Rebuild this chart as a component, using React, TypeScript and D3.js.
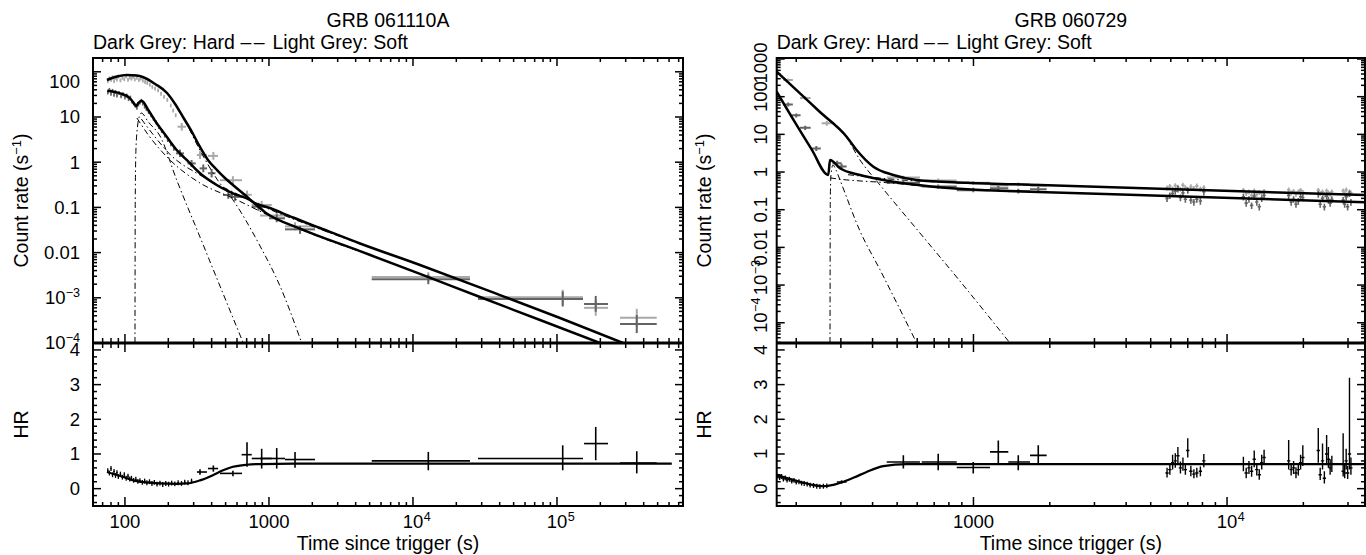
import React from "react";
import * as d3 from "d3";

const FONT = "'Liberation Sans', Arial, Helvetica, sans-serif";
const LIGHT = "#a9a9a9";
const DARK = "#646464";

// ---------- GRB 061110A (left) ----------
// [t, tLo, tHi, rate, rateLo, rateHi]
const leftSoftPC: number[][] = [
  [248, 232, 265, 6.1, 5.0, 7.4],
  [332, 316, 371, 1.44, 1.18, 1.76],
  [411, 377, 443, 1.38, 1.13, 1.69],
  [562, 457, 650, 0.4, 0.33, 0.49],
  [704, 646, 759, 0.19, 0.155, 0.235],
  [890, 759, 1045, 0.113, 0.092, 0.139],
  [1132, 866, 1292, 0.066, 0.054, 0.081],
  [1517, 1292, 2088, 0.038, 0.031, 0.047],
  [12780, 5170, 24890, 0.0029, 0.00225, 0.0037],
  [109600, 28290, 151600, 0.00103, 0.0007, 0.0015],
  [185800, 154200, 226200, 0.0006, 0.0004, 0.0009],
  [358100, 274100, 492700, 0.000363, 0.00023, 0.00057],
];
const leftHardPC: number[][] = [
  [241, 226, 257, 1.57, 1.3, 1.9],
  [290, 272, 310, 0.94, 0.78, 1.12],
  [350, 330, 372, 0.73, 0.6, 0.89],
  [400, 377, 425, 0.57, 0.46, 0.7],
  [522, 480, 562, 0.188, 0.155, 0.23],
  [581, 540, 650, 0.171, 0.14, 0.21],
  [844, 759, 960, 0.1035, 0.084, 0.127],
  [1132, 1000, 1292, 0.0574, 0.047, 0.07],
  [1644, 1292, 2088, 0.0327, 0.026, 0.039],
  [12780, 5170, 24890, 0.00256, 0.002, 0.0033],
  [109600, 28290, 151600, 0.00094, 0.00064, 0.00138],
  [185800, 154200, 226200, 0.00073, 0.00049, 0.0011],
  [358100, 274100, 492700, 0.000263, 0.000166, 0.000416],
];
// [t, rate] dense early (WT) data
const leftSoftWT: number[][] = [
  [76, 62], [78, 72], [80, 66], [82, 76], [84, 63], [86, 74], [88, 68], [90, 79], [93, 65],
  [96, 74], [99, 69], [102, 80], [105, 67], [108, 75], [111, 71], [114, 78], [117, 68],
  [121, 74], [125, 66], [129, 71], [133, 64], [138, 60], [143, 57], [149, 52], [155, 46],
  [162, 43], [170, 39], [178, 33], [187, 28], [197, 24], [208, 18], [216, 14], [225, 11],
];
const leftHardWT: number[][] = [
  [76, 35], [78, 40], [80, 33], [82, 38], [84, 31], [86, 36], [88, 30], [91, 34], [94, 29],
  [97, 32], [100, 27], [103, 30], [106, 25], [109, 27], [112, 22], [115, 20], [118, 18],
  [121, 16], [124, 19], [127, 21], [130, 23], [133, 20], [137, 17], [141, 15], [146, 13],
  [152, 11], [158, 9.2], [165, 7.6], [172, 6.0], [180, 4.9], [189, 3.9], [198, 3.1],
  [208, 2.5], [219, 2.0],
];
const leftSoftModel: number[][] = [
  [75, 65.8], [88, 78.7], [103, 85], [121, 82.8], [133, 76.7], [162, 53.7], [196, 34],
  [223, 19.4], [253, 10], [292, 4.66], [332, 2.17], [377, 1.12], [436, 0.671], [495, 0.447],
  [562, 0.313], [682, 0.188], [774, 0.1315], [1016, 0.097], [1469, 0.0597], [2262, 0.035],
  [4287, 0.0159], [11190, 0.00531], [40220, 0.00115], [105000, 0.000357], [287500, 0.0001],
];
const leftHardModel: number[][] = [
  [75.4, 38.1], [92.4, 33.4], [108.4, 25.9], [117.4, 18.6], [119.5, 17.4], [124, 20.5],
  [130.6, 22.9], [145.2, 14.3], [166.2, 7.25], [195, 3.66], [228.7, 1.86], [268.4, 1.12],
  [332, 0.568], [433.5, 0.313], [562, 0.205], [738, 0.146], [964.5, 0.0735], [1643, 0.034],
  [4287, 0.01076], [11190, 0.00338], [29220, 0.00104], [76250, 0.000323], [199000, 0.0001],
];
const leftComponents: number[][][] = [
  [[117.4, 1e-4], [117.9, 0.146], [119.2, 1.86], [122.6, 6.65], [126.2, 10.5], [129.9, 12.25],
   [145.3, 7.74], [175.1, 3.8], [228.7, 0.404], [332, 0.0221], [457, 0.00182], [663, 0.0001]],
  [[75, 65.8], [88, 78.7], [103, 85], [121, 82.8], [133, 76.7], [162, 53.6], [196, 33.8],
   [253, 9.9], [332, 1.83], [436, 0.42], [562, 0.147], [867, 0.014], [1193, 0.00182], [1688, 0.0001]],
  [[121, 9.5], [145.3, 4.0], [205.5, 1.12], [332, 0.346], [562, 0.161], [964.5, 0.07],
   [1643, 0.033], [4287, 0.0105]],
  [[130, 9.0], [162, 3.6], [205, 1.5], [332, 0.52], [562, 0.22], [1016, 0.09], [2262, 0.033],
   [4287, 0.0157]],
];
// hardness ratio
const leftHRWT: number[][] = [
  [76, 0.52], [78, 0.45], [80, 0.58], [82, 0.4], [84, 0.5], [86, 0.38], [88, 0.46], [90, 0.35],
  [93, 0.42], [96, 0.33], [99, 0.4], [102, 0.3], [105, 0.36], [108, 0.28], [111, 0.3],
  [115, 0.24], [119, 0.27], [123, 0.21], [127, 0.23], [132, 0.18], [137, 0.22], [142, 0.17],
  [148, 0.2], [154, 0.15], [160, 0.18], [167, 0.13], [175, 0.16], [183, 0.12], [192, 0.15],
  [201, 0.13], [211, 0.16], [222, 0.14], [234, 0.17], [247, 0.15], [260, 0.19], [274, 0.17],
  [290, 0.22],
];
const leftHRPC: number[][] = [
  [332, 316, 371, 0.48, 0.4, 0.56],
  [411, 377, 443, 0.58, 0.49, 0.67],
  [562, 457, 650, 0.44, 0.36, 0.52],
  [704, 646, 759, 0.98, 0.63, 1.34],
  [890, 759, 1045, 0.87, 0.58, 1.15],
  [1132, 866, 1292, 0.87, 0.58, 1.17],
  [1517, 1292, 2088, 0.84, 0.6, 1.06],
  [12780, 5170, 24890, 0.8, 0.53, 1.06],
  [109600, 28290, 151600, 0.87, 0.53, 1.25],
  [185800, 154200, 226200, 1.3, 0.82, 1.78],
  [358100, 274100, 492700, 0.74, 0.44, 1.08],
];
const leftHRModel: number[][] = [
  [75, 0.48], [95, 0.35], [114, 0.24], [140, 0.18], [175, 0.15], [230, 0.14], [270, 0.15],
  [332, 0.24], [408, 0.39], [480, 0.53], [562, 0.63], [700, 0.69], [867, 0.71], [1500, 0.72],
  [627000, 0.72],
];

// ---------- GRB 060729 (right) ----------
const rightSoftPC: number[][] = [
  [186, 178, 194, 277, 250, 305],
  [217, 207, 228, 92, 82, 103],
  [264, 252, 276, 19.6, 17, 22.5],
  [529, 455, 615, 0.72, 0.65, 0.8],
  [726, 625, 859, 0.6, 0.54, 0.67],
  [998, 859, 1162, 0.52, 0.46, 0.58],
  [1253, 1162, 1372, 0.44, 0.39, 0.5],
  [1502, 1372, 1671, 0.47, 0.42, 0.53],
  [1801, 1671, 1944, 0.43, 0.38, 0.49],
];
const rightHardPC: number[][] = [
  [186, 178, 194, 62, 55, 70],
  [200, 192, 208, 32, 28, 36],
  [217, 207, 228, 15, 13, 17],
  [240, 230, 250, 4.2, 3.6, 4.9],
  [290, 278, 302, 1.7, 1.45, 2.0],
  [302, 289, 316, 1.4, 1.2, 1.65],
  [529, 455, 615, 0.52, 0.46, 0.59],
  [726, 625, 859, 0.41, 0.36, 0.47],
  [998, 859, 1162, 0.33, 0.29, 0.38],
  [1253, 1162, 1372, 0.37, 0.32, 0.43],
  [1502, 1372, 1671, 0.31, 0.27, 0.36],
  [1801, 1671, 1944, 0.35, 0.3, 0.4],
];
// [t, soft, hard, hr, hrLo, hrHi] late dense data
const rightLate: number[][] = [
  [5800, 0.38, 0.2, 0.45, 0.32, 0.6], [5950, 0.42, 0.24, 0.55, 0.4, 0.72],
  [6100, 0.36, 0.27, 0.75, 0.55, 0.98], [6250, 0.44, 0.31, 0.8, 0.6, 1.02],
  [6400, 0.4, 0.36, 0.95, 0.72, 1.2], [6550, 0.35, 0.21, 0.6, 0.44, 0.78],
  [6700, 0.45, 0.28, 0.7, 0.52, 0.9], [6850, 0.39, 0.19, 0.55, 0.4, 0.72],
  [7000, 0.33, 0.33, 1.1, 0.9, 1.45], [7200, 0.41, 0.18, 0.5, 0.36, 0.66],
  [7400, 0.37, 0.16, 0.42, 0.3, 0.56], [7600, 0.43, 0.19, 0.45, 0.32, 0.6],
  [7850, 0.36, 0.17, 0.5, 0.36, 0.64], [8100, 0.39, 0.3, 0.8, 0.62, 1.0],
  [11600, 0.33, 0.22, 0.7, 0.5, 0.92], [11900, 0.27, 0.15, 0.45, 0.3, 0.6],
  [12200, 0.3, 0.19, 0.6, 0.42, 0.8], [12500, 0.24, 0.13, 0.5, 0.34, 0.66],
  [12800, 0.32, 0.23, 0.85, 0.62, 1.1], [13100, 0.26, 0.16, 0.55, 0.38, 0.74],
  [13400, 0.29, 0.12, 0.4, 0.26, 0.56], [13700, 0.27, 0.2, 0.75, 0.55, 0.98],
  [14000, 0.31, 0.24, 0.9, 0.7, 1.12],
  [17500, 0.34, 0.24, 0.8, 0.55, 1.4], [17900, 0.28, 0.16, 0.55, 0.38, 0.74],
  [18300, 0.31, 0.19, 0.6, 0.42, 0.8], [18700, 0.26, 0.14, 0.45, 0.3, 0.62],
  [19100, 0.3, 0.17, 0.55, 0.38, 0.72], [19500, 0.33, 0.22, 0.75, 0.55, 0.98],
  [19900, 0.29, 0.21, 0.9, 0.65, 1.25],
  [22900, 0.33, 0.26, 1.1, 0.75, 1.75], [23300, 0.27, 0.14, 0.4, 0.25, 0.6],
  [23800, 0.3, 0.2, 0.8, 0.55, 1.3], [24200, 0.25, 0.12, 0.3, 0.15, 0.5],
  [24700, 0.32, 0.23, 1.0, 0.7, 1.55], [25100, 0.28, 0.18, 0.85, 0.6, 1.2],
  [25500, 0.26, 0.15, 0.6, 0.4, 0.85], [25900, 0.3, 0.19, 0.7, 0.48, 0.95],
  [28700, 0.32, 0.18, 0.5, 0.35, 1.6], [29100, 0.27, 0.14, 0.45, 0.3, 0.7],
  [29500, 0.34, 0.22, 0.8, 0.55, 1.15], [29900, 0.25, 0.12, 0.45, 0.28, 0.65],
  [30400, 0.3, 0.27, 1.0, 0.55, 3.2], [30800, 0.28, 0.16, 0.6, 0.4, 0.9],
];
const rightSoftModel: number[][] = [
  [167.5, 460], [207, 122], [248, 39.2], [316, 8.67], [346, 3.84], [403, 1.385], [483, 0.834],
  [597, 0.614], [940, 0.521], [1829, 0.452], [7820, 0.333], [35000, 0.2455],
];
const rightHardModel: number[][] = [
  [167.5, 135.6], [200, 18.3], [230, 4.0], [267.6, 0.834], [271.8, 2.09], [297.6, 1.256],
  [356.8, 0.834], [441, 0.614], [694, 0.4077], [1272, 0.319], [1670, 0.3003], [7820, 0.217],
  [35000, 0.157],
];
const rightComponents: number[][][] = [
  [[271.8, 2.9e-5], [272.5, 0.181], [274.2, 0.834], [279.3, 1.54], [287, 1.13], [297.6, 0.614],
   [356.8, 0.0272], [428, 0.00255], [597, 2.9e-5]],
  [[167.5, 460], [207, 122], [248, 39.2], [316, 8.2], [356.8, 2.09], [428, 0.452], [615, 0.0241],
   [884, 0.00128], [1393, 2.9e-5]],
  [[271.8, 0.7], [300, 0.64], [356.8, 0.58], [441, 0.53], [694, 0.4], [1272, 0.315], [1670, 0.298]],
  [[320, 0.85], [403, 0.72], [483, 0.64], [597, 0.58], [940, 0.51], [1829, 0.45]],
];
const rightHRWT: number[][] = [
  [169, 0.36], [172, 0.32], [175, 0.35], [178, 0.28], [181, 0.31], [184, 0.25], [188, 0.27],
  [192, 0.22], [196, 0.24], [200, 0.19], [205, 0.2], [210, 0.16], [215, 0.15], [221, 0.13],
  [227, 0.1], [234, 0.09], [241, 0.07], [248, 0.06], [256, 0.07], [264, 0.08],
];
const rightHRPC: number[][] = [
  [302, 289, 316, 0.19, 0.14, 0.24],
  [529, 455, 615, 0.77, 0.58, 0.96],
  [726, 625, 859, 0.77, 0.53, 1.01],
  [998, 859, 1162, 0.61, 0.44, 0.77],
  [1253, 1162, 1372, 1.06, 0.72, 1.39],
  [1502, 1372, 1671, 0.77, 0.53, 0.96],
  [1801, 1671, 1944, 0.96, 0.72, 1.25],
];
const rightHRModel: number[][] = [
  [167.5, 0.39], [207, 0.2], [235, 0.1], [256, 0.07], [280, 0.11], [307, 0.2], [340, 0.33],
  [379, 0.48], [441, 0.65], [545, 0.71], [35000, 0.71],
];

// ---------- axes text ----------
const leftYLabels = [
  { v: 100, b: "100" }, { v: 10, b: "10" }, { v: 1, b: "1" }, { v: 0.1, b: "0.1" },
  { v: 0.01, b: "0.01" }, { v: 1e-3, b: "10", s: "−3" }, { v: 1e-4, b: "10", s: "−4" },
];
const rightYLabels = [
  { v: 1000, b: "1000" }, { v: 100, b: "100" }, { v: 10, b: "10" }, { v: 1, b: "1" },
  { v: 0.1, b: "0.1" }, { v: 0.01, b: "0.01" }, { v: 1e-3, b: "10", s: "−3" },
  { v: 1e-4, b: "10", s: "−4" },
];
const leftXLabels = [
  { v: 100, b: "100" }, { v: 1000, b: "1000" }, { v: 1e4, b: "10", s: "4" }, { v: 1e5, b: "10", s: "5" },
];
const rightXLabels = [{ v: 1000, b: "1000" }, { v: 1e4, b: "10", s: "4" }];
const hrLabels = [0, 1, 2, 3, 4];

const TOP = 58, MID = 343, BOT = 506;
const WT_REL_ERR = 0.1;
const WT_T_ERR = 0.012;
const HR_WT_ERR = 0.07;
const FS = 19.5; // titles
const TFS = 18.5; // tick labels

type Lab = { v: number; b: string; s?: string };

function logTicks(lo: number, hi: number) {
  const out: { v: number; major: boolean }[] = [];
  for (let p = Math.floor(Math.log10(lo)); p <= Math.ceil(Math.log10(hi)); p++) {
    for (let k = 1; k <= 9; k++) {
      const v = k * Math.pow(10, p);
      if (v >= lo * 0.999 && v <= hi * 1.001) out.push({ v, major: k === 1 });
    }
  }
  return out;
}

function textW(s: string, fs: number) {
  let w = 0;
  for (const c of s) w += c === "." ? 0.278 : 0.556;
  return w * fs;
}

// label centred on its base part; superscript hangs to the right
function CLabel({ x, y, l, rot }: { x: number; y: number; l: Lab; rot: boolean }) {
  const w = textW(l.b, TFS);
  const inner = (
    <>
      <text x={0} y={0} textAnchor="middle" fontSize={TFS}>
        {l.b}
      </text>
      {l.s ? (
        <text x={w / 2 + 0.5} y={-7} fontSize={TFS * 0.68}>
          {l.s}
        </text>
      ) : null}
    </>
  );
  return <g transform={`translate(${x},${y})${rot ? " rotate(-90)" : ""}`}>{inner}</g>;
}

type PanelP = {
  id: string;
  x0: number;
  x1: number;
  xDom: [number, number];
  yDom: [number, number];
  title: string;
  yLabels: Lab[];
  xLabels: Lab[];
  rotY: boolean;
  topShift: number;
  softPC: number[][];
  hardPC: number[][];
  softWT: number[][];
  hardWT: number[][];
  softModel: number[][];
  hardModel: number[][];
  comps: number[][][];
  hrWT: number[][];
  hrPC: number[][];
  hrModel: number[][];
  late?: number[][];
};

function Panel(p: PanelP) {
  const x = d3.scaleLog().domain(p.xDom).range([p.x0, p.x1]);
  const y = d3.scaleLog().domain(p.yDom).range([MID, TOP]);
  const h = d3.scaleLinear().domain([-0.5, 4.2]).range([BOT, MID]);
  const xt = logTicks(p.xDom[0], p.xDom[1]);
  const yt = logTicks(p.yDom[0], p.yDom[1]);
  const ht: { v: number; major: boolean }[] = [];
  for (let i = -4; i <= 42; i += 2) ht.push({ v: i / 10, major: i % 10 === 0 });
  const line = d3
    .line<number[]>()
    .x((d) => x(d[0]))
    .y((d) => y(d[1]))
    .curve(d3.curveMonotoneX);
  const hline = d3
    .line<number[]>()
    .x((d) => x(d[0]))
    .y((d) => h(d[1]))
    .curve(d3.curveMonotoneX);
  const cross = (
    key: string,
    t: number,
    tl: number,
    th: number,
    v: number,
    vl: number,
    vh: number,
    sy: (n: number) => number,
    color: string,
    sw: number
  ) => (
    <g key={key} stroke={color} strokeWidth={sw}>
      <line x1={x(tl)} x2={x(th)} y1={sy(v)} y2={sy(v)} />
      <line x1={x(t)} x2={x(t)} y1={sy(vl)} y2={sy(vh)} />
    </g>
  );
  const late = p.late || [];
  const cx = (p.x0 + p.x1) / 2;
  const topV = p.yLabels[0].v;
  return (
    <g>
      <defs>
        <clipPath id={p.id + "top"}>
          <rect x={p.x0} y={TOP} width={p.x1 - p.x0} height={MID - TOP} />
        </clipPath>
        <clipPath id={p.id + "bot"}>
          <rect x={p.x0} y={MID} width={p.x1 - p.x0} height={BOT - MID} />
        </clipPath>
      </defs>
      {/* titles */}
      <text x={cx} y={27} textAnchor="middle" fontSize={FS}>
        {p.title}
      </text>
      <text x={p.x0} y={48.5} fontSize={FS}>
        Dark Grey: Hard <tspan letterSpacing={2.5}>––</tspan> Light Grey: Soft
      </text>
      {/* top panel data */}
      <g clipPath={`url(#${p.id}top)`}>
        {p.softWT.map((d, i) =>
          cross("sw" + i, d[0], d[0] * (1 - WT_T_ERR), d[0] * (1 + WT_T_ERR), d[1], d[1] * (1 - WT_REL_ERR), d[1] * (1 + WT_REL_ERR), y, LIGHT, 1.6)
        )}
        {p.softPC.map((d, i) => cross("sp" + i, d[0], d[1], d[2], d[3], d[4], d[5], y, LIGHT, 2))}
        {late.map((d, i) =>
          cross("ls" + i, d[0], d[0] * 0.985, d[0] * 1.015, d[1], d[1] * 0.85, d[1] * 1.15, y, LIGHT, 1.6)
        )}
        {p.hardWT.map((d, i) =>
          cross("hw" + i, d[0], d[0] * (1 - WT_T_ERR), d[0] * (1 + WT_T_ERR), d[1], d[1] * (1 - WT_REL_ERR), d[1] * (1 + WT_REL_ERR), y, DARK, 1.6)
        )}
        {p.hardPC.map((d, i) => cross("hp" + i, d[0], d[1], d[2], d[3], d[4], d[5], y, DARK, 2))}
        {late.map((d, i) =>
          cross("lh" + i, d[0], d[0] * 0.985, d[0] * 1.015, d[2], d[2] * 0.8, d[2] * 1.2, y, DARK, 1.6)
        )}
        {p.comps.map((c, i) => (
          <path key={"c" + i} d={line(c) || ""} fill="none" stroke="#000" strokeWidth={1} strokeDasharray="6,3,1.5,3" />
        ))}
        <path d={line(p.softModel) || ""} fill="none" stroke="#000" strokeWidth={2.5} />
        <path d={line(p.hardModel) || ""} fill="none" stroke="#000" strokeWidth={2.5} />
      </g>
      {/* bottom panel data */}
      <g clipPath={`url(#${p.id}bot)`}>
        {p.hrWT.map((d, i) =>
          cross("rw" + i, d[0], d[0] * (1 - WT_T_ERR), d[0] * (1 + WT_T_ERR), d[1], d[1] - HR_WT_ERR, d[1] + HR_WT_ERR, h, "#000", 1.3)
        )}
        {p.hrPC.map((d, i) => cross("rp" + i, d[0], d[1], d[2], d[3], d[4], d[5], h, "#000", 1.6))}
        {late.map((d, i) => cross("rl" + i, d[0], d[0] * 0.985, d[0] * 1.015, d[3], d[4], d[5], h, "#000", 1.4))}
        <path d={hline(p.hrModel) || ""} fill="none" stroke="#000" strokeWidth={2.2} />
      </g>
      {/* ticks */}
      <g stroke="#000" strokeWidth={1.5}>
        {xt.map((t, i) => {
          const X = x(t.v);
          const L = t.major ? 9 : 5;
          return (
            <g key={"xt" + i}>
              <line x1={X} x2={X} y1={TOP} y2={TOP + (t.major ? 8 : 4)} />
              <line x1={X} x2={X} y1={MID - L} y2={MID + L} />
              <line x1={X} x2={X} y1={BOT} y2={BOT - (t.major ? 9 : 4)} />
            </g>
          );
        })}
        {yt.map((t, i) => {
          const Y = y(t.v);
          const L = t.major ? 8 : 4;
          return (
            <g key={"yt" + i}>
              <line x1={p.x0} x2={p.x0 + L} y1={Y} y2={Y} />
              <line x1={p.x1} x2={p.x1 - L} y1={Y} y2={Y} />
            </g>
          );
        })}
        {ht.map((t, i) => {
          const Y = h(t.v);
          const L = t.major ? 8 : 4;
          return (
            <g key={"ht" + i}>
              <line x1={p.x0} x2={p.x0 + L} y1={Y} y2={Y} />
              <line x1={p.x1} x2={p.x1 - L} y1={Y} y2={Y} />
            </g>
          );
        })}
      </g>
      {/* frames */}
      <rect x={p.x0} y={TOP} width={p.x1 - p.x0} height={BOT - TOP} fill="none" stroke="#000" strokeWidth={2} />
      <line x1={p.x0} x2={p.x1} y1={MID} y2={MID} stroke="#000" strokeWidth={3} />
      {/* tick labels */}
      {p.xLabels.map((l, i) => (
        <CLabel key={"xl" + i} x={x(l.v)} y={528} l={l} rot={false} />
      ))}
      {p.yLabels.map((l, i) => {
        const Y = y(l.v) + (l.v === topV ? p.topShift : 0);
        return p.rotY ? (
          <CLabel key={"yl" + i} x={767} y={Y} l={l} rot={true} />
        ) : (
          <text key={"yl" + i} x={80} y={Y} dy="0.35em" textAnchor="end" fontSize={TFS}>
            <tspan>{l.b}</tspan>
            {l.s ? (
              <tspan dy={-7} fontSize={TFS * 0.68}>
                {l.s}
              </tspan>
            ) : null}
          </text>
        );
      })}
      {hrLabels.map((v, i) =>
        p.rotY ? (
          <CLabel key={"hl" + i} x={767} y={h(v)} l={{ v, b: String(v) }} rot={true} />
        ) : (
          <text key={"hl" + i} x={80} y={h(v)} dy="0.35em" textAnchor="end" fontSize={TFS}>
            {v}
          </text>
        )
      )}
      {/* axis titles */}
      <text x={cx} y={550} textAnchor="middle" fontSize={FS}>
        Time since trigger (s)
      </text>
      <text transform={`translate(${p.x0 - 65.5},${(TOP + MID) / 2}) rotate(-90)`} textAnchor="middle" fontSize={FS}>
        <tspan>Count rate (s</tspan>
        <tspan dy={-7} fontSize={13}>
          −1
        </tspan>
        <tspan dy={7}>)</tspan>
      </text>
      <text transform={`translate(${p.x0 - 65.5},${(MID + BOT) / 2}) rotate(-90)`} textAnchor="middle" fontSize={FS}>
        HR
      </text>
    </g>
  );
}

export default function App() {
  return (
    <svg
      width={1366}
      height={555}
      style={{ position: "fixed", left: 0, top: 0, background: "#fff" }}
      fontFamily={FONT}
    >
      <rect width={1366} height={555} fill="#fff" />
      <Panel
        id="L"
        x0={93}
        x1={683}
        xDom={[60, 7.5e5]}
        yDom={[1e-4, 202]}
        title="GRB 061110A"
        yLabels={leftYLabels}
        xLabels={leftXLabels}
        rotY={false}
        topShift={10}
        softPC={leftSoftPC}
        hardPC={leftHardPC}
        softWT={leftSoftWT}
        hardWT={leftHardWT}
        softModel={leftSoftModel}
        hardModel={leftHardModel}
        comps={leftComponents}
        hrWT={leftHRWT}
        hrPC={leftHRPC}
        hrModel={leftHRModel}
      />
      <Panel
        id="R"
        x0={776.7}
        x1={1365}
        xDom={[167.5, 35000]}
        yDom={[2.9e-5, 1063]}
        title="GRB 060729"
        yLabels={rightYLabels}
        xLabels={rightXLabels}
        rotY={true}
        topShift={4}
        softPC={rightSoftPC}
        hardPC={rightHardPC}
        softWT={[]}
        hardWT={[]}
        softModel={rightSoftModel}
        hardModel={rightHardModel}
        comps={rightComponents}
        hrWT={rightHRWT}
        hrPC={rightHRPC}
        hrModel={rightHRModel}
        late={rightLate}
      />
    </svg>
  );
}
